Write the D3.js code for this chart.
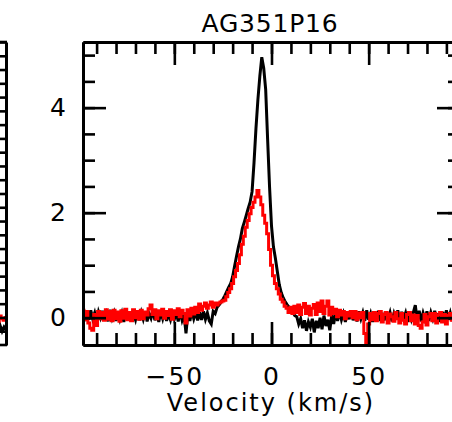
<!DOCTYPE html>
<html>
<head>
<meta charset="utf-8">
<script src="https://cdn.jsdelivr.net/npm/d3@7"></script>
<style>
  body { margin: 0; background: white; }
  text { font-family: "DejaVu Sans", sans-serif; fill: black; }
</style>
</head>
<body>
<div id="chart"></div>
<script>
// spectrum channels, 1 km/s each
var velStart = -97
var velEnd = 97

// black spectrum (T, one value per channel from -97 to 97 km/s)
var blackSpec = [
  0.12, -0.06, 0.1, -0.04, 0.14, -0.02, 0.09, -0.08, 0.11, 0.0,
  0.13, -0.05, 0.08, -0.07, 0.15, -0.01, 0.1, -0.06, 0.12, -0.03,
  0.09, -0.08, 0.14, -0.02, 0.11, -0.06, 0.07, -0.04, 0.13, -0.05,
  0.1, -0.03, 0.12, -0.07, 0.08, -0.01, 0.14, -0.05, 0.09, -0.08,
  0.11, -0.02, 0.13, -0.06, 0.07, -0.04, 0.12, -0.03, 0.1, -0.07,
  0.12, -0.05, 0.06, -0.3, 0.09, -0.06, 0.13, -0.02, 0.11, -0.05,
  0.1, -0.04, 0.12, -0.03, 0.09, -0.06, -0.12, 0.12, 0.08, 0.2,
  0.24, 0.3, 0.35, 0.42, 0.5, 0.58, 0.65, 0.78, 0.98, 1.17,
  1.35, 1.5, 1.7, 1.82, 1.95, 2.08, 2.2, 2.4, 2.95, 3.6,
  4.15, 4.6, 4.96, 4.75, 4.35, 3.4, 2.49, 1.75, 1.35, 1.13,
  0.88, 0.63, 0.48, 0.38, 0.31, 0.25, 0.2, 0.15, 0.1, 0.04,
  0.02, -0.12, -0.02, -0.2, -0.05, -0.25, -0.08, -0.18, -0.02, -0.28,
  -0.06, -0.2, 0.0, -0.22, 0.04, -0.16, -0.04, -0.24, 0.05, -0.12,
  0.1, -0.06, 0.12, -0.04, 0.08, -0.08, 0.11, -0.03, 0.13, -0.05,
  0.09, -0.07, 0.12, -0.02, 0.1, -0.06, 0.14, -0.04, 0.08, -0.08,
  0.11, -0.03, 0.13, -0.06, 0.09, -0.05, 0.12, -0.02, 0.1, -0.07,
  0.08, -0.04, 0.14, -0.06, 0.11, -0.02, 0.09, -0.08, 0.12, -0.03,
  0.1, 0.24, -0.05, 0.13, -0.07, 0.09, -0.03, 0.12, -0.06, 0.1,
  -0.02, 0.13, -0.05, 0.08, -0.08, 0.11, -0.03, 0.14, -0.04, 0.09,
  -0.06, 0.12, -0.02, 0.1, -0.05
]

// red spectrum, same channels
var redSpec = [
  0.14, -0.04, 0.12, -0.1, -0.2, -0.24, 0.06, -0.15, 0.12, -0.02,
  0.1, -0.05, 0.15, -0.03, 0.12, -0.06, 0.14, -0.02, 0.11, -0.07,
  0.13, -0.01, 0.16, -0.04, 0.1, -0.06, 0.15, 0.0, 0.12, -0.03,
  0.14, -0.02, 0.11, 0.05, 0.17, 0.24, 0.06, 0.15, -0.02, 0.13,
  0.05, 0.16, -0.01, 0.12, 0.04, 0.15, -0.03, 0.13, 0.06, 0.17,
  0.02, 0.14, 0.08, -0.1, 0.15, 0.03, 0.18, 0.07, 0.2, 0.1,
  0.26, 0.14, 0.22, 0.28, 0.18, 0.24, 0.3, 0.2, 0.28, 0.24,
  0.28, 0.3, 0.32, 0.33, 0.4, 0.48, 0.55, 0.65, 0.78, 0.9,
  1.03, 1.2, 1.4, 1.55, 1.72, 1.85, 1.98, 2.1, 2.2, 2.3,
  2.42, 2.3, 2.15, 1.95, 1.8, 1.6, 1.3, 1.0, 0.8, 0.65,
  0.55, 0.45, 0.35, 0.3, 0.22, 0.18, 0.1, 0.2, 0.08, 0.22,
  0.1, 0.24, 0.06, 0.2, 0.27, 0.08, 0.22, 0.05, 0.18, 0.25,
  0.06, 0.28, 0.12, 0.32, 0.08, 0.22, 0.32, 0.05, 0.2, 0.08,
  0.16, 0.02, 0.14, 0.05, 0.12, -0.02, 0.1, 0.03, 0.12, 0.0,
  0.12, -0.04, 0.09, 0.0, 0.1, -0.3, -0.49, -0.12, 0.08, -0.04,
  0.1, -0.06, 0.08, 0.12, -0.08, 0.06, 0.1, -0.1, 0.07, 0.02,
  -0.07, 0.1, -0.02, -0.1, 0.08, -0.05, -0.12, 0.06, 0.1, -0.06,
  0.05, -0.12, 0.04, -0.15, -0.2, -0.08, 0.06, -0.14, 0.02, 0.08,
  -0.06, 0.08, -0.1, 0.05, 0.1, -0.08, 0.06, -0.12, 0.04, 0.08,
  -0.05, 0.07, -0.08, 0.05, 0.04
]

// tail end of the neighbouring panel (cut off at the left edge)
var leftVel = [91, 92, 93, 94, 95, 96, 97]
var leftBlack = [0.02, 0.05, -0.01, 0.04, 0.0, 0.03, 0.01]
var leftRed = [0.09, 0.12, 0.07, 0.11, 0.09, 0.08, 0.1]

var xMajorTicks = [-50, 0, 50]
var xMinorTicks = [-90, -80, -70, -60, -50, -40, -30, -20, -10, 0, 10, 20, 30, 40, 50, 60, 70, 80, 90]
var yMajorTicks = [0, 2, 4]
var yMinorTicks = [0, 0.5, 1, 1.5, 2, 2.5, 3, 3.5, 4, 4.5, 5]
var leftTicks = d3.range(0, 22).map(function(d) { return d/10 })

var title = "AG351P16"
var xTitle = "Velocity (km/s)"

var width = 452
var height = 422
var plot = {left: 83, right: 460, top: 42, bottom: 345}
var majorLen = 23
var minorLen = 12

var svg = d3.select("#chart")
    .append("svg")
    .attr("width", width)
    .attr("height", height)

var x = d3.scaleLinear().domain([-97, 97]).range([plot.left, plot.right])
var y = d3.scaleLinear().domain([-0.52, 5.25]).range([plot.bottom, plot.top])

var vel = d3.range(velStart, velEnd + 1)

// neighbour panel: only its right frame edge and a few channels show
var lx = d3.scaleLinear().domain([-97, 97]).range([6 - 377, 6])
var ly = d3.scaleLinear().domain([-0.1, 2.1]).range([plot.bottom, plot.top])

var leftPanel = svg.append("g").attr("id", "leftPanel")
leftPanel.append("path")
    .datum(leftVel)
    .attr("fill", "none").attr("stroke", "black").attr("stroke-width", 3)
    .attr("d", d3.line().x(function(d) { return lx(d) }).y(function(d, i) { return ly(leftBlack[i]) }))
leftPanel.append("path")
    .datum(leftVel)
    .attr("fill", "none").attr("stroke", "red").attr("stroke-width", 3)
    .attr("d", d3.line().curve(d3.curveStep).x(function(d) { return lx(d) }).y(function(d, i) { return ly(leftRed[i]) }))
leftPanel.append("g")
    .attr("transform", "translate(6,0)")
    .call(d3.axisRight(ly).tickValues(leftTicks).tickSize(-10).tickSizeOuter(0).tickFormat(""))
leftPanel.append("line")
    .attr("x1", -5).attr("x2", 7).attr("y1", plot.top).attr("y2", plot.top)
leftPanel.append("line")
    .attr("x1", -5).attr("x2", 7).attr("y1", plot.bottom).attr("y2", plot.bottom)

// spectra
svg.append("clipPath").attr("id", "clip")
    .append("rect")
    .attr("x", plot.left).attr("y", plot.top)
    .attr("width", plot.right - plot.left).attr("height", plot.bottom - plot.top)

var lines = svg.append("g").attr("clip-path", "url(#clip)")

lines.append("path")
    .datum(vel)
    .attr("fill", "none")
    .attr("stroke", "black")
    .attr("stroke-width", 3)
    .attr("d", d3.line().x(function(d) { return x(d) }).y(function(d, i) { return y(blackSpec[i]) }))

lines.append("path")
    .datum(vel)
    .attr("fill", "none")
    .attr("stroke", "red")
    .attr("stroke-width", 3)
    .attr("d", d3.line().curve(d3.curveStep).x(function(d) { return x(d) }).y(function(d, i) { return y(redSpec[i]) }))

// frame + ticks (all pointing inwards)
var axes = svg.append("g").attr("id", "axes")
var fmt = d3.format("d")

axes.append("g")
    .attr("transform", "translate(0," + plot.bottom + ")")
    .call(d3.axisBottom(x).tickValues(xMinorTicks).tickSize(-minorLen).tickSizeOuter(0).tickFormat(""))
axes.append("g")
    .attr("class", "lab")
    .attr("transform", "translate(0," + plot.bottom + ")")
    .call(d3.axisBottom(x).tickValues(xMajorTicks).tickSize(-majorLen).tickSizeOuter(0).tickPadding(22).tickFormat(fmt))
axes.append("g")
    .attr("transform", "translate(0," + plot.top + ")")
    .call(d3.axisTop(x).tickValues(xMinorTicks).tickSize(-minorLen).tickSizeOuter(0).tickFormat(""))
axes.append("g")
    .attr("transform", "translate(0," + plot.top + ")")
    .call(d3.axisTop(x).tickValues(xMajorTicks).tickSize(-majorLen).tickSizeOuter(0).tickFormat(""))

axes.append("g")
    .attr("transform", "translate(" + plot.left + ",0)")
    .call(d3.axisLeft(y).tickValues(yMinorTicks).tickSize(-minorLen).tickSizeOuter(0).tickFormat(""))
axes.append("g")
    .attr("class", "lab")
    .attr("transform", "translate(" + plot.left + ",0)")
    .call(d3.axisLeft(y).tickValues(yMajorTicks).tickSize(-majorLen).tickSizeOuter(0).tickPadding(15).tickFormat(fmt))
axes.append("g")
    .attr("transform", "translate(" + plot.right + ",0)")
    .call(d3.axisRight(y).tickValues(yMinorTicks).tickSize(-minorLen).tickSizeOuter(0).tickFormat(""))
axes.append("g")
    .attr("transform", "translate(" + plot.right + ",0)")
    .call(d3.axisRight(y).tickValues(yMajorTicks).tickSize(-majorLen).tickSizeOuter(0).tickFormat(""))

svg.selectAll(".domain").attr("stroke", "black").attr("stroke-width", 3)
svg.selectAll(".tick line").attr("stroke", "black").attr("stroke-width", 2.6)
leftPanel.selectAll("line").attr("stroke", "black").attr("stroke-width", 2.6)
svg.selectAll(".lab text")
    .style("font-size", "25px")
    .style("letter-spacing", "2px")
    .style("font-family", "'DejaVu Sans', sans-serif")
    .attr("fill", "black")

// titles
svg.append("text")
    .attr("x", 270).attr("y", 32)
    .attr("text-anchor", "middle")
    .style("font-size", "25px")
    .style("letter-spacing", "0.8px")
    .text(title)

svg.append("text")
    .attr("x", 271).attr("y", 411)
    .attr("text-anchor", "middle")
    .style("font-size", "24px")
    .style("letter-spacing", "2px")
    .text(xTitle)
</script>
</body>
</html>
